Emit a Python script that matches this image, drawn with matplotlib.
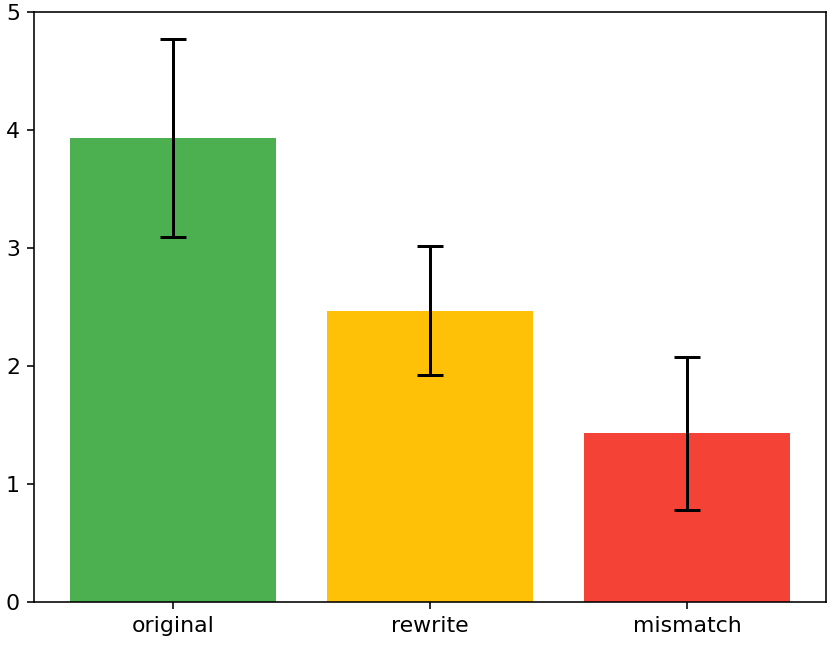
import matplotlib
matplotlib.use("Agg")
from matplotlib import pyplot as plt

# data
labels = ['original', 'rewrite', 'mismatch']
means = [3.93, 2.47, 1.43]
errs = [0.84, 0.55, 0.65]
colors = ['#4CAF50', '#FFC107', '#F44336']

fig, ax = plt.subplots(figsize=(830 / 144, 645 / 144), dpi=144)
fig.subplots_adjust(left=34 / 830, right=826 / 830, top=1 - 12 / 645, bottom=1 - 602 / 645)

ax.bar(labels, means, yerr=errs, color=colors, capsize=6.5,
       error_kw={'elinewidth': 1.5, 'capthick': 1.5, 'ecolor': 'black'})
ax.set_ylim(0, 5)
ax.tick_params(labelsize=11)

fig.savefig('out.png', dpi=144)
